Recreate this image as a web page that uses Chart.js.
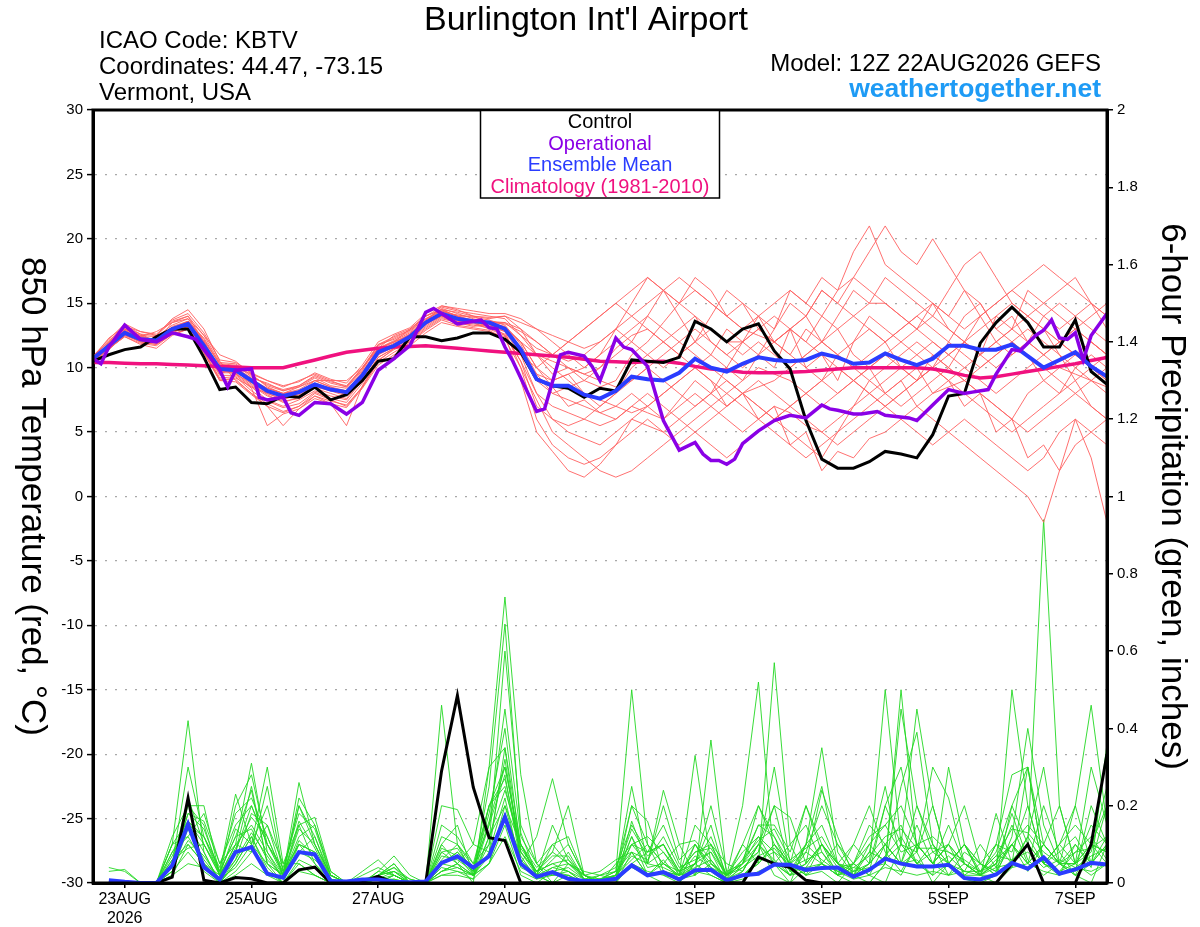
<!DOCTYPE html>
<html>
<head>
<meta charset="utf-8">
<script src="https://cdn.jsdelivr.net/npm/chart.js"></script>
<style>
  html, body { margin: 0; padding: 0; background: #fff; }
  canvas { display: block; }
</style>
</head>
<body>
<canvas id="c" width="1200" height="927"></canvas>
<script>
// hours after 22AUG2026 12Z
const hours = [0,6,12,18,24,30,36,42,48,54,60,66,72,78,84,90,96,102,108,114,120,126,132,138,144,150,156,162,168,174,180,186,192,198,204,210,216,222,228,234,240,246,252,258,264,270,276,282,288,294,300,306,312,318,324,330,336,342,348,354,360,366,372,378,384];
const tickHours = [12,60,108,156,228,276,324,372];
const tickLabels = [['23AUG','2026'],'25AUG','27AUG','29AUG','1SEP','3SEP','5SEP','7SEP'];

// 850 hPa temperature (C)
const ctlTemp = [
  10.5,11.0,11.4,11.6,12.4,13.0,13.0,10.8,8.3,8.5,7.3,7.2,7.8,
  7.7,8.5,7.5,7.9,9.0,10.5,10.7,12.4,12.4,12.1,12.3,12.7,12.7,
  12.2,11.2,9.1,8.6,8.4,7.7,8.4,8.2,10.6,10.5,10.4,10.8,13.6,
  13.0,12.0,13.0,13.4,11.3,9.9,5.9,2.9,2.2,2.2,2.7,3.5,3.3,
  3.0,4.8,7.8,8.0,11.9,13.5,14.7,13.5,11.6,11.6,13.7,9.7,8.7];
const meanTemp = [
  10.7,11.7,12.7,12.2,12.1,13.0,13.4,11.7,9.9,9.8,9.0,8.2,7.8,
  8.1,8.7,8.3,8.1,9.4,11.2,11.7,12.4,13.5,14.2,13.8,13.6,13.5,
  13.0,11.4,9.1,8.6,8.6,7.9,7.6,8.2,9.3,9.1,9.0,9.6,10.7,
  10.0,9.7,10.3,10.8,10.6,10.5,10.6,11.1,10.8,10.3,10.4,11.1,10.6,
  10.2,10.7,11.7,11.7,11.4,11.4,11.8,10.9,10.0,10.6,11.2,10.1,9.3];
const climTemp = [
  10.4,10.4,10.35,10.3,10.3,10.25,10.2,10.15,10.1,10.05,10.0,10.0,10.0,
  10.3,10.6,10.9,11.2,11.35,11.5,11.6,11.65,11.7,11.6,11.5,11.4,11.3,
  11.2,11.1,11.0,10.9,10.8,10.65,10.5,10.45,10.4,10.45,10.5,10.35,10.1,
  9.9,9.8,9.65,9.6,9.6,9.65,9.7,9.8,9.9,10.0,10.0,10.0,10.0,
  10.0,9.9,9.7,9.4,9.2,9.3,9.5,9.7,9.9,10.1,10.3,10.55,10.8];
const opHours = [0,3,6,12,18,24,30,36,39,48,51,54,60,63,66,72,75,78,84,90,96,102,108,114,120,126,129,
  132,138,147,150,153,156,159,168,171,177,180,186,189,192,198,201,204,210,216,222,228,231,234,237,240,243,246,
  252,258,264,270,276,279,282,288,291,297,300,309,312,318,324,330,333,339,342,348,351,357,360,363,366,369,372,375,378,384];
const opTemp = [10.7,10.3,11.6,13.3,12.2,12.0,12.7,12.4,12.2,9.8,8.5,9.8,9.9,7.7,7.5,7.7,6.5,6.3,7.3,7.2,6.4,7.3,9.8,10.7,11.7,14.3,14.6,
  14.2,13.4,13.7,13.1,13.0,11.6,10.5,6.6,6.8,11.0,11.2,10.9,10.1,9.0,12.3,11.6,11.4,10.1,5.9,3.6,4.2,3.3,2.8,2.8,2.5,2.9,4.1,
  5.1,5.9,6.3,6.1,7.1,6.8,6.7,6.4,6.4,6.6,6.3,6.1,5.9,7.1,8.3,8.0,8.1,8.3,9.5,11.4,11.3,12.5,12.9,13.7,12.3,12.2,12.7,10.6,12.5,14.2];

// ensemble members, 850 hPa temperature
const redMembers = [
  [10.5,12,13,12.5,12,13.5,14,12,10,9.5,8.5,8,7.5, 8,9,8.5,8,9.5,11.5,12,13,14,14.5,14,14,13.5, 13,12,10,9,9.5,8,7,8,10,11,12,13,14, 12,11,12,13,12,11,10,9,11,12,13,12,10, 9,10,12,14,15,13,12,11,9,8,10,11,10],
  [10.8,12.3,13.2,12.8,12.5,13.8,14.5,13,10.5,9,8,7,6.5, 7,8,7.5,7,8.5,10.5,11.5,12.5,13.5,14.8,14.5,14,13.8, 14,13,11,9.5,10,9,8.5,9,11,12,13.5,15,16, 15,14,13,14,15,16,15,14,13,14,15,17,16, 15,14,13,12,14,15,16,15,14,13,14,15,14],
  [10.6,11.5,12.5,12,11.8,12.8,13.2,11.5,9.5,10,9.5,8.5,8, 8.5,9,9,8.5,10,11.5,12,12.5,13.5,14,13.5,13.5,13, 12.5,10.5,8,7,6.5,6,5.5,6,7,6.5,6,7,8, 7,6,5,6,7,6.5,5.5,5,6,7,8,7,6, 5,4,5,6,5,4,3,2,3,5,6,5,4],
  [10.4,11.8,12.8,12.4,12.8,13.5,13.8,12.5,11,10.5,9.5,9,8.5, 9,9.5,9,9,10,11.5,12.5,13,14,14.5,14,13.5,13.5, 13.5,12.5,11.5,11,12,13,14,15,16,17,16,15,14, 13,12,12,13,14,13,12,14,16,17,16,15,14, 13,14,16,18,19,17,15,14,15,16,17,15,13],
  [10.7,11.5,12.4,11.8,11.5,12.5,13,11.2,9,9.2,8.5,7.5,7, 7.5,8.2,7.8,7.5,9,10.8,11.5,12,13,13.8,13.5,13.2,13.4, 12.8,10,6,4,3,2.5,3,4,5,6,5,4,5, 6,7,8,7,6,5,4,3,5,7,9,8,7, 8,9,10,9,8,7,6,8,9,10,11,12,11],
  [10.9,12,13.3,12.6,12,13.2,13.6,12.2,10.2,10,9.2,8.8,8.2, 8.5,9.2,8.6,8.4,9.8,11.8,12.2,12.8,13.8,14.4,14,13.6,13.2, 13,11.5,9,8,8.5,9,10,11,12,11,10,11,12, 13,12,11,12,11,10,11,12,11,10,9,10,11, 12,11,10,9,10,11,12,13,12,11,10,9,8],
  [10.5,11.6,12.9,12.2,12.3,13.1,13.5,11.8,9.8,9.5,8.8,8,7.6, 7.8,8.5,8.2,7.8,9.2,11,11.8,12.2,13.2,14,13.8,13.6,13.2, 12.8,11,10,11,12,13,14,15,14,13,12,11,12, 14,16,15,14,12,13,10,11,9,12,14,13,12, 11,10,9,10,11,12,13,12,11,12,13,14,15],
  [10.6,11.9,13,12.4,12.1,12.9,13.3,11.6,9.6,9.6,8.6,7.8,7.4, 7.6,8.4,8,7.6,9.2,11.2,11.6,12.2,13.4,14.2,13.6,13.4,13.2, 13.2,12,10,8.5,7,7.5,6.5,7,8,7,6,7.5,9, 8,7,8,9,8,7,8,9,8,9,10,11,10, 9,10,11,12,11,10,11,12,13,11,9,7,6],
  [10.8,11.6,12.6,12.2,11.9,12.7,13.2,11.4,9.4,9.4,8.4,5.5,6.4, 6.8,7.6,7.2,5.5,8.6,10.6,11.4,12,13.4,14,13.6,13.5,13.6, 13.5,13,12,11,10,9.5,10,11.5,12.5,13,12,11,10, 9,8,9,10,9.5,9,8,7,8,9,10,11,12, 13,15,14,16,15,13,14,12,11,10,9.5,9,8.5],
  [10.4,11.4,12.6,12,12.2,13,13.6,12,10,9.9,9,8.4,8, 8.2,8.8,8.4,8.2,9.6,11.4,12,12.6,13.6,14.3,14.1,13.9,13.7, 13.3,11.8,9.5,9,9.5,10,11,12,13,14,13,12,11, 10,9,8,8.5,9,10,11,12,11,10,11,12,13, 14,13,12,11,10,11,12,11,10,9,8,9,10],
  [10.6,11.8,12.7,12.1,11.9,12.9,13.3,11.5,9.7,9.7,8.9,8.1,7.7, 7.9,8.6,8.2,8,9.2,11,11.6,12.3,13.3,14.1,13.7,13.5,13.3, 13.1,12,11,10.5,10,9.5,9,8.5,9,10,11,12,13, 12,11,10,11,12,13,12,11,10,9,8,9,10, 11,12,11,10,9,8,9,10,11,12,13,12,11],
  [10.7,11.9,13,12.5,12.4,13.3,13.8,12,9.9,9.8,8.7,7.9,7.3, 7.7,8.8,8.3,7.9,9.4,11.3,11.9,12.6,13.7,14.6,14.2,13.8,13.4, 12.5,9,5,3.5,2,1.5,2.5,4,6,7,8,9,10, 9,7,8,6,7,4,5,2,3.5,3,4.5,5,6, 7,8,8.5,9,8,7,6,5,6,7,8,7,6],
  [10.5,11.4,12.5,12.1,12.3,13.1,13.4,12.1,10.3,10.2,9.3,8.7,8.3, 8.6,9.4,8.9,8.6,10,11.8,12.4,12.9,13.8,14.5,14.3,14,13.9, 14,13.5,13,12.5,12,11.5,12,13,14,15,16,17,16, 15,14,13,12.5,12,13,14,16,15,17,19,21,19, 18,20,18,16,14,12,11,12,14,15,14,13,12],
  [10.6,11.7,12.8,12.3,12,12.8,13.1,11.3,9.2,9.3,8.2,7.4,6.9, 7.2,8.1,7.6,7.3,8.8,10.8,11.5,12.1,13.1,13.9,13.5,13.3,13.1, 12.6,10.5,7,6,5.5,6,7,8,9,10,9,8,7, 8,10,9,11,10,13,14,12,13,11,10,8,9, 7,6,5,4,3,2,1,0,-2,2,6,3,-2],
  [10.8,12.1,13.1,12.6,12.5,13.6,14,12.5,10.4,10.3,9.4,8.6,8.2, 8.6,9.3,8.8,8.5,9.9,11.7,12.3,12.9,14,14.7,14.4,14.2,14, 13.8,12.5,11,10,9,8,7.5,7,6.5,7,8,9,10, 11,13,12,14,13,16,15,17,16,19,21,18,17, 16,15,14,13,14,15,16,17,18,17,16,15,14],
  [10.5,11.6,12.7,12.2,12,12.9,13.4,11.9,9.9,9.8,8.9,8.2,7.9, 8.1,8.7,8.4,8,9.4,11.1,11.7,12.4,13.5,14.2,13.8,13.6,13.5, 13.2,11,8,6,5,4.5,4,5,6,5.5,5,6,7, 8,9,8,7,6,7,8,9,10,9,8,7,8, 9,11,10,12,11,14,13,16,15,14,13,12,11],
  [10.7,11.8,12.9,12.4,12.2,13.1,13.6,12.3,10.3,10,9.1,8.4,8, 8.3,9,8.5,8.2,9.7,11.5,12.1,12.7,13.7,14.4,14,13.7,13.5, 13.4,12.8,12,11,10.5,11,12,13,15,17,16,14,12, 11,10,12,11,13,15,14,16,15,14,13,12,13, 14,15,13,12,11,12,13,14,13,12,11,10,9],
  [10.6,11.6,12.6,12,11.8,12.6,13,11.2,9.1,9.1,8,7.2,6.6, 7,7.8,7.4,7.1,8.5,10.4,11.2,11.9,12.9,13.7,13.3,13.1,12.9, 12.2,10,7.5,5,4,3,2,1.5,2,3,4,5,6, 7,8,7,6,5,4,3,4,5,6,7,8,9, 10,8,9,7,8,5,6,3,4,2,4,5,6],
  [10.9,12.2,13.4,12.8,12.6,13.7,14.2,12.7,10.6,10.4,9.6,9,8.6, 8.9,9.6,9.1,8.8,10.2,12,12.6,13.1,14.2,14.8,14.6,14.4,14.2, 14.2,13.8,13,12,11,10,11,13,12,14,16,15,17, 16,14,15,13,12,11,13,12,14,16,15,15,14, 13,12,11,12,13,14,15,14,13,12,11,10,9],
  [10.5,11.5,12.4,11.9,11.7,12.6,13,11.1,9,8.9,7.9,7,5.5, 6.8,7.8,7.2,6.9,8.4,10.2,11,11.7,12.7,13.5,13.2,13,12.8, 12.4,11,9.5,8,7.5,7,6.5,6,7,8,7,6,5, 4,3,4,5,6,7,6,5,4,5,6,7,8, 9,10,9,8,7,6,5,6,7,8,9,10,11]
];

// 6-hour precipitation (inches), first slot has no 6-h total
const ctlPrecip = [
  null,0,0,0,0,0.015,0.22,0.007,0,0.014,0.011,0,0,
  0.034,0.041,0,0,0.004,0.017,0,0,0,0.29,0.485,0.248,0.117,
  0.11,0,0,0,0,0,0,0,0,0,0,0,0,
  0,0,0,0.067,0.05,0.04,0.007,0,0,0,0,0,0,
  0,0,0,0,0,0,0.05,0.1,0,0,0,0.1,0.334];
const meanPrecip = [
  null,0.007,0.003,0,0,0.046,0.152,0.041,0.009,0.08,0.093,0.024,0.014,
  0.08,0.074,0.005,0.004,0.009,0.009,0.003,0.002,0.004,0.052,0.069,0.04,0.069,
  0.171,0.05,0.016,0.028,0.011,0.005,0.005,0.011,0.046,0.02,0.028,0.009,0.033,
  0.034,0.007,0.02,0.024,0.048,0.047,0.034,0.039,0.04,0.016,0.034,0.063,0.05,
  0.043,0.043,0.047,0.013,0.009,0.022,0.052,0.037,0.066,0.024,0.035,0.052,0.048];
const greenMembers = [
  [null,0.04,0.03,0,0,0.1,0.42,0.08,0,0.05,0.12,0.03,0, 0.1,0.05,0,0,0,0.02,0,0,0,0.1,0.05,0,0.3,0.74, 0.28,0.05,0,0.02,0,0,0,0.08,0.02,0,0,0.05,0.02, 0,0.03,0.1,0.02,0,0.04,0.1,0.02,0,0,0.05,0.5,0.08, 0,0.05,0.1,0.02,0,0.04,0.12,0.3,0.05,0.02,0,0.1,0.05],
  [null,0.03,0.035,0,0,0.05,0.2,0.2,0.02,0.1,0.31,0.08,0.02, 0.15,0.17,0.03,0,0,0.01,0,0,0,0.46,0.1,0.02,0.05,0.2, 0.1,0.02,0,0,0,0.01,0.03,0.5,0.1,0.02,0,0.1,0.03, 0,0.02,0.05,0.57,0.1,0.02,0.03,0,0.05,0.02,0,0.1,0.45, 0.2,0.05,0.01,0,0.02,0.06,0.1,0.94,0.2,0.05,0.1,0.2],
  [null,0,0,0,0,0.08,0.15,0.12,0.03,0.23,0.1,0.3,0.05, 0.05,0.02,0,0,0.03,0.06,0.02,0,0,0.2,0.19,0.1,0.08,0.35, 0.05,0.12,0.27,0.1,0.02,0,0,0.16,0.05,0.24,0.1,0.02,0.37, 0.02,0.2,0.52,0.05,0,0.1,0.35,0.08,0.02,0.03,0.2,0.1,0.05, 0.02,0.3,0.1,0.02,0.05,0.18,0.06,0.02,0.05,0.2,0.46,0.15],
  [null,0,0,0,0,0.12,0.2,0.15,0.02,0.08,0.25,0.05,0.02, 0.26,0.1,0.02,0,0,0.02,0.05,0,0,0.05,0.08,0.03,0.25,0.67, 0.13,0.02,0,0.05,0.03,0.02,0.01,0.2,0.16,0.03,0.02,0.33,0.05, 0.02,0.05,0.1,0.2,0.17,0.05,0.24,0.12,0.02,0,0.05,0.25,0.39, 0.1,0.02,0.05,0.02,0.1,0.28,0.3,0.05,0.02,0.1,0.04,0.36],
  [null,0,0,0,0,0.04,0.18,0.16,0.05,0.15,0.2,0.1,0.03, 0.2,0.12,0.01,0,0,0.03,0.07,0.02,0,0.03,0.05,0.1,0.3,0.35, 0.1,0.03,0.08,0.2,0.02,0,0.02,0.1,0.05,0.2,0.06,0.1,0.04, 0.02,0.1,0.2,0.1,0.05,0.2,0.1,0.05,0.02,0.08,0.25,0.05,0.08, 0.3,0.22,0.05,0.02,0.04,0.1,0.05,0.1,0.2,0.05,0.02,0.05],
  [null,0,0,0,0,0.1,0.12,0.05,0.02,0.2,0.28,0.1,0.04, 0.18,0.14,0.02,0,0.02,0.04,0.02,0,0,0.1,0.15,0.02,0.15,0.28, 0.05,0.02,0.1,0.05,0.02,0.03,0.06,0.08,0.02,0.05,0.1,0.11,0.06, 0,0.05,0.08,0.3,0.05,0.02,0.1,0.05,0.1,0.2,0.08,0.03,0.1, 0.05,0.1,0.05,0.02,0.18,0.05,0.3,0.1,0.05,0.02,0.1,0.08],
  [null,0,0,0,0,0.05,0.22,0.1,0.03,0.12,0.24,0.05,0.02, 0.2,0.1,0.02,0,0.01,0.02,0.03,0.01,0,0.08,0.05,0.02,0.2,0.27, 0.08,0.03,0.05,0.03,0.01,0.02,0.04,0.15,0.08,0.1,0.02,0.05,0.2, 0.03,0.05,0.15,0.12,0.03,0.04,0.05,0.02,0.1,0.05,0.5,0.1,0.05, 0.1,0.05,0.1,0.03,0.05,0.15,0.05,0.1,0.05,0.03,0.2,0.1],
  [null,0,0,0,0,0.03,0.15,0.08,0,0.06,0.18,0.15,0.02, 0.12,0.15,0.03,0,0,0.02,0.05,0,0,0.06,0.1,0.05,0.1,0.6, 0.15,0.05,0.02,0.03,0,0.02,0.03,0.2,0.1,0.05,0.03,0.08,0.1, 0.01,0.1,0.05,0.1,0.03,0.1,0.25,0.05,0.02,0.1,0.15,0.2,0.1, 0.05,0.15,0.05,0.02,0.1,0.08,0.2,0.05,0.1,0.2,0.05,0.1],
  [null,0,0,0,0,0.06,0.1,0.05,0.01,0.04,0.1,0.05,0, 0.05,0.02,0,0,0,0,0.02,0,0,0.03,0.05,0.02,0.05,0.15, 0.02,0,0.03,0.02,0,0,0.05,0.1,0.08,0.15,0.05,0.02,0.1, 0.05,0.03,0.1,0.05,0.02,0.1,0.15,0.05,0.03,0.05,0.1,0.05,0.15, 0.05,0.1,0.02,0.05,0.1,0.05,0.1,0.05,0.1,0.05,0.15,0.1],
  [null,0,0,0,0,0.1,0.16,0.12,0.02,0.1,0.15,0.08,0.01, 0.08,0.06,0.02,0,0,0.01,0.03,0,0,0.12,0.1,0.04,0.2,0.25, 0.08,0.02,0.15,0.06,0.02,0,0.02,0.06,0.1,0.05,0.02,0.1,0.05, 0.02,0.08,0.12,0.05,0.1,0.15,0.05,0.02,0.05,0.15,0.1,0.05,0.2, 0.08,0.05,0.1,0.05,0.03,0.5,0.2,0.05,0.08,0.12,0.05,0.2],
  [null,0,0,0,0,0.02,0.1,0.05,0,0.03,0.08,0.25,0.03, 0.1,0.08,0,0,0,0,0,0,0,0.02,0.02,0.01,0.12,0.2, 0.05,0.02,0.02,0.08,0.01,0,0,0.05,0.03,0.02,0.01,0.05,0.08, 0,0.02,0.05,0.1,0.05,0.02,0.05,0.1,0.03,0.04,0.05,0.02,0.1, 0.05,0.02,0.08,0.05,0.03,0.1,0.03,0.1,0.05,0.05,0.1,0.08],
  [null,0,0,0,0,0.02,0.05,0.04,0,0.02,0.05,0.02,0, 0.03,0.02,0,0,0,0,0.01,0,0,0.02,0.03,0.01,0.05,0.12, 0.03,0.01,0.02,0.02,0,0,0.01,0.04,0.02,0.03,0.02,0.03,0.02, 0,0.01,0.03,0.05,0.02,0.03,0.05,0.03,0.01,0.02,0.04,0.03,0.02, 0.03,0.02,0.03,0.02,0.02,0.04,0.05,0.03,0.02,0.04,0.03,0.05],
  [null,0,0,0,0,0.05,0.3,0.12,0.04,0.18,0.22,0.12,0.02, 0.22,0.15,0.02,0,0,0.02,0.04,0,0,0.05,0.08,0.04,0.15,0.45, 0.12,0.05,0.1,0.12,0.02,0.01,0.02,0.25,0.05,0.08,0.03,0.05,0.15, 0.01,0.06,0.15,0.15,0.08,0.2,0.08,0.03,0.02,0.05,0.2,0.3,0.1, 0.05,0.1,0.2,0.05,0.02,0.12,0.4,0.15,0.05,0.05,0.3,0.15],
  [null,0,0,0,0,0.03,0.08,0.03,0,0.05,0.12,0.04,0, 0.06,0.04,0,0,0,0,0,0,0,0.04,0.03,0.02,0.08,0.22, 0.04,0.02,0.04,0.05,0.01,0,0.01,0.12,0.02,0.06,0.01,0.02,0.05, 0.01,0.02,0.06,0.08,0.02,0.05,0.1,0.04,0.05,0.02,0.1,0.05,0.06, 0.02,0.05,0.02,0.02,0.06,0.1,0.05,0.2,0.08,0.02,0.05,0.12],
  [null,0,0,0,0,0.08,0.12,0.18,0.05,0.1,0.08,0.15,0.05, 0.15,0.05,0.01,0,0,0.03,0.02,0,0,0.15,0.12,0.05,0.2,0.3, 0.1,0.02,0.06,0.1,0.02,0,0.01,0.1,0.12,0.08,0.02,0.15,0.1, 0.02,0.05,0.2,0.12,0.05,0.08,0.2,0.1,0.05,0.1,0.05,0.45,0.2, 0.1,0.05,0.1,0.05,0.02,0.2,0.3,0.05,0.1,0.15,0.1,0.05],
  [null,0,0,0,0,0.05,0.18,0.14,0.03,0.12,0.14,0.06,0.02, 0.14,0.1,0.01,0,0,0.01,0.02,0,0,0.07,0.06,0.03,0.18,0.4, 0.08,0.03,0.05,0.06,0.01,0.01,0.03,0.08,0.06,0.12,0.04,0.06,0.08, 0.02,0.04,0.08,0.2,0.03,0.05,0.1,0.05,0.02,0.05,0.1,0.15,0.05, 0.08,0.1,0.05,0.02,0.05,0.1,0.15,0.1,0.05,0.1,0.05,0.1],
  [null,0,0,0,0,0.03,0.14,0.06,0.01,0.08,0.2,0.1,0.02, 0.1,0.08,0.01,0,0,0,0.02,0,0,0.03,0.04,0.02,0.1,0.32, 0.06,0.02,0.03,0.04,0.01,0,0.02,0.12,0.04,0.05,0.02,0.04,0.06, 0.01,0.03,0.1,0.06,0.02,0.08,0.05,0.02,0.03,0.08,0.06,0.1,0.08, 0.2,0.05,0.03,0.1,0.04,0.05,0.12,0.05,0.03,0.08,0.12,0.06],
  [null,0,0,0,0,0.06,0.09,0.1,0.02,0.14,0.1,0.2,0.03, 0.08,0.12,0.02,0,0,0.02,0.03,0,0,0.09,0.07,0.02,0.12,0.24, 0.1,0.04,0.08,0.05,0.02,0,0.01,0.05,0.08,0.1,0.03,0.05,0.12, 0.02,0.05,0.12,0.08,0.05,0.1,0.06,0.03,0.05,0.12,0.15,0.08,0.1, 0.12,0.08,0.05,0.03,0.08,0.2,0.1,0.05,0.03,0.05,0.08,0.25],
  [null,0,0,0,0,0.04,0.11,0.07,0.01,0.06,0.13,0.07,0.01, 0.11,0.07,0,0,0,0.01,0.01,0,0,0.05,0.04,0.02,0.07,0.18, 0.07,0.01,0.04,0.03,0,0.01,0.02,0.07,0.05,0.04,0.02,0.07,0.04, 0.01,0.04,0.07,0.09,0.04,0.06,0.08,0.02,0.04,0.03,0.07,0.12,0.05, 0.04,0.07,0.03,0.03,0.07,0.06,0.08,0.04,0.06,0.04,0.07,0.09],
  [null,0,0,0,0,0.07,0.16,0.1,0.02,0.09,0.17,0.12,0.02, 0.16,0.09,0.01,0,0,0.02,0.04,0.01,0,0.08,0.09,0.03,0.16,0.3, 0.09,0.03,0.07,0.07,0.01,0.01,0.02,0.14,0.07,0.1,0.03,0.08,0.09, 0.02,0.06,0.11,0.14,0.06,0.09,0.12,0.05,0.04,0.07,0.12,0.14,0.09, 0.09,0.08,0.06,0.03,0.07,0.14,0.13,0.08,0.05,0.08,0.09,0.12]
];

const FONT = '"Liberation Sans", Arial, Helvetica, sans-serif';
Chart.defaults.font.family = FONT;
Chart.defaults.color = '#000';

const COL = { ctl: '#000000', op: '#8a00e6', mean: '#2a3cff', clim: '#f0117f', red: '#ff6060', green: '#22d822' };

function pts(xs, ys) { return xs.map((x, i) => ({ x: x, y: ys[i] === undefined ? null : ys[i] })); }
function line(data, axis, color, width, order) {
  return { data: data, yAxisID: axis, borderColor: color, borderWidth: width, pointRadius: 0, tension: 0, fill: false, order: order };
}

const datasets = [];
datasets.push(line(pts(opHours, opTemp), 'yT', COL.op, 3.5, 1));
datasets.push(line(pts(hours, meanTemp), 'yT', COL.mean, 4, 2));
datasets.push(line(pts(hours, ctlTemp), 'yT', COL.ctl, 3, 3));
datasets.push(line(pts(hours, climTemp), 'yT', COL.clim, 3.5, 4));
datasets.push(line(pts(hours, meanPrecip), 'yP', COL.mean, 4, 2));
datasets.push(line(pts(hours, ctlPrecip), 'yP', COL.ctl, 3, 3));
redMembers.forEach(m => datasets.push(line(pts(hours, m), 'yT', COL.red, 0.9, 10)));
greenMembers.forEach(m => datasets.push(line(pts(hours, m), 'yP', COL.green, 0.9, 11)));

const legendLines = [
  ['Control', COL.ctl], ['Operational', COL.op], ['Ensemble Mean', COL.mean], ['Climatology (1981-2010)', COL.clim]
];

const deco = {
  id: 'deco',
  afterDraw(chart) {
    const ctx = chart.ctx, a = chart.chartArea;
    ctx.save();
    ctx.strokeStyle = '#000';
    ctx.lineWidth = 3;
    ctx.strokeRect(a.left, a.top, a.right - a.left, a.bottom - a.top);

    // legend box
    ctx.fillStyle = '#fff';
    ctx.fillRect(480, a.top + 1.5, 240, 87);
    ctx.lineWidth = 1.5;
    ctx.strokeRect(480.5, a.top, 239, 88);
    ctx.font = '20px ' + FONT;
    ctx.textAlign = 'center';
    ctx.textBaseline = 'alphabetic';
    legendLines.forEach((l, i) => {
      ctx.fillStyle = l[1];
      ctx.fillText(l[0], 600, a.top + 18 + i * 21.5);
    });

    // titles
    ctx.fillStyle = '#000';
    ctx.font = '34px ' + FONT;
    ctx.fillText("Burlington Int'l Airport", 586, 30);
    ctx.textAlign = 'left';
    ctx.font = '24px ' + FONT;
    ctx.fillText('ICAO Code: KBTV', 99, 48);
    ctx.fillText('Coordinates: 44.47, -73.15', 99, 74);
    ctx.fillText('Vermont, USA', 99, 100);
    ctx.textAlign = 'right';
    ctx.fillText('Model: 12Z 22AUG2026 GEFS', 1101, 71);
    ctx.font = 'bold 26.5px ' + FONT;
    ctx.fillStyle = '#1e9bf5';
    ctx.fillText('weathertogether.net', 1101, 97);

    // axis titles
    ctx.fillStyle = '#000';
    ctx.font = '35px ' + FONT;
    ctx.textAlign = 'center';
    ctx.textBaseline = 'middle';
    const mid = (a.top + a.bottom) / 2;
    ctx.save();
    ctx.translate(32, mid);
    ctx.rotate(Math.PI / 2);
    ctx.fillText('850 hPa Temperature (red, \u00B0C)', 0, 0);
    ctx.restore();
    ctx.save();
    ctx.translate(1172, mid);
    ctx.rotate(Math.PI / 2);
    ctx.fillText('6-hour Precipitation (green, inches)', 0, 0);
    ctx.restore();
    ctx.restore();
  }
};

new Chart(document.getElementById('c'), {
  type: 'line',
  data: { datasets: datasets },
  plugins: [deco],
  options: {
    responsive: false,
    animation: false,
    devicePixelRatio: 1,
    events: [],
    layout: { padding: { top: 110, left: 0, right: 0, bottom: 0 } },
    plugins: { legend: { display: false }, tooltip: { enabled: false } },
    scales: {
      x: {
        type: 'linear', min: 0, max: 384, position: 'bottom',
        afterFit: s => { s.height = 44; },
        afterBuildTicks: s => { s.ticks = tickHours.map(v => ({ value: v })); },
        grid: { drawOnChartArea: false, drawTicks: true, tickLength: 5, color: '#000', lineWidth: 1.5 },
        border: { display: true, color: '#000', width: 3 },
        ticks: {
          autoSkip: false, maxRotation: 0, padding: 2, color: '#000', font: { size: 16 },
          callback: v => { const i = tickHours.indexOf(v); return i >= 0 ? tickLabels[i] : ''; }
        }
      },
      yT: {
        type: 'linear', position: 'left', min: -30, max: 30,
        afterFit: s => { s.width = 93; },
        ticks: { stepSize: 5, font: { size: 15 }, color: '#000', padding: 4 },
        grid: { color: '#a8a8a8', lineWidth: 1.2, tickColor: '#000', tickLength: 6, tickWidth: 1.5, tickBorderDash: [] },
        border: { display: true, color: '#000', width: 3, dash: [2, 8] }
      },
      yP: {
        type: 'linear', position: 'right', min: 0, max: 2,
        afterFit: s => { s.width = 93; },
        ticks: { stepSize: 0.2, font: { size: 15 }, color: '#000', padding: 4,
          callback: v => String(Math.round(v * 10) / 10) },
        grid: { drawOnChartArea: false, color: '#000', tickLength: 6, lineWidth: 1.5 },
        border: { display: true, color: '#000', width: 3 }
      }
    }
  }
});
</script>
</body>
</html>
